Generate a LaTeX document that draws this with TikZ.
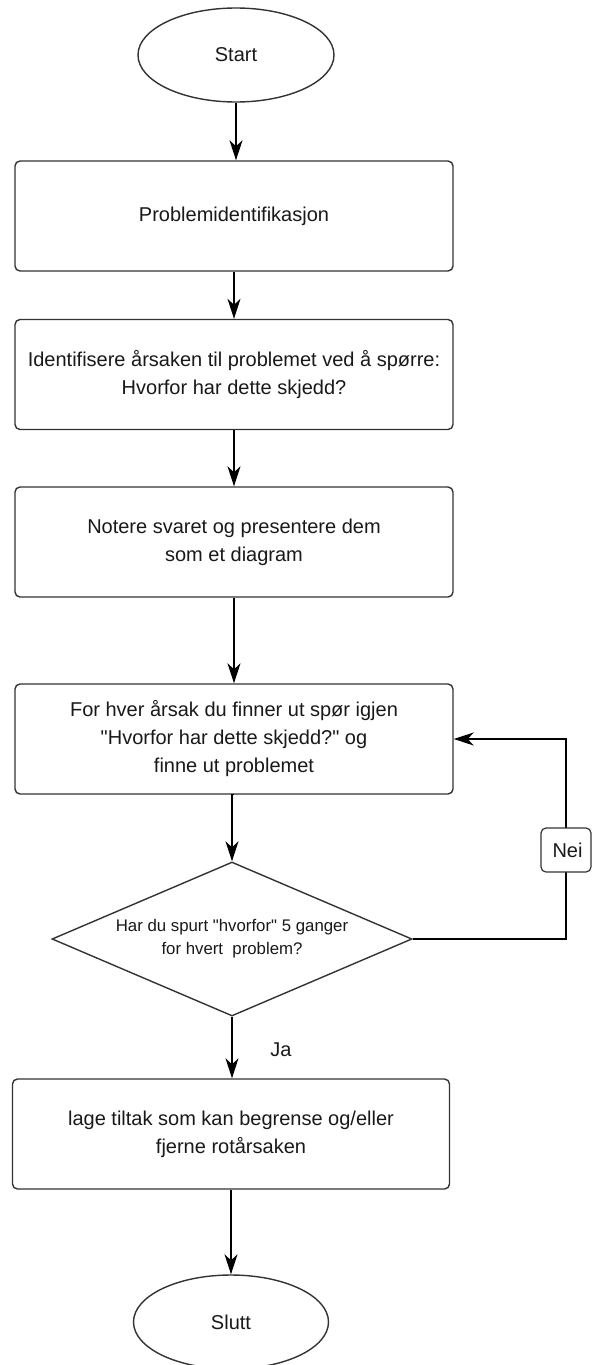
\documentclass[tikz,border=0pt]{standalone}
\usepackage{fontspec}
\setmainfont{Liberation Sans}[Ligatures=TeXOff]
\usetikzlibrary{shapes.geometric,arrows.meta}
\begin{document}
\begin{tikzpicture}[x=1pt,y=-1pt,
  base/.style={draw=black!80, line width=1.4pt, fill=white, text=black!90,
    align=center, inner sep=0pt, font=\fontsize{20}{28}\selectfont},
  terminal/.style={base, ellipse, minimum width=196pt, minimum height=94pt},
  process/.style={base, rectangle, rounded corners=5pt,
    minimum width=438pt, minimum height=110pt},
  decision/.style={base, diamond, aspect=2.34, minimum width=360pt,
    minimum height=154pt, font=\fontsize{16.8}{23}\selectfont},
  tag/.style={base, rectangle, rounded corners=5pt, line width=1.2pt,
    minimum width=50pt, minimum height=44pt},
  plain/.style={text=black!90, font=\fontsize{20}{28}\selectfont, inner sep=0pt},
  arr/.style={draw=black, line width=1.3pt,
    -{Stealth[length=20pt, width=13pt, inset=6pt]}}
]
\useasboundingbox (0,0) rectangle (592,1365);

% main column of steps
\node[terminal] (start) at (236,55) {Start};
\node[process] (b1) at (234,216) {Problemidentifikasjon};
\node[process] (b2) at (234,374.5) {Identifisere årsaken til problemet ved å spørre:\\Hvorfor har dette skjedd?};
\node[process] (b3) at (234,542) {Notere svaret og presentere dem\\som et diagram};
\node[process] (b4) at (234,739) {For hver årsak du finner ut spør igjen\\"Hvorfor har dette skjedd?" og\\finne ut problemet};
\node[decision] (dec) at (232,939) {Har du spurt "hvorfor" 5 ganger\\for hvert\ \ problem?};
\node[process, minimum width=437pt] (b5) at (231,1134) {lage tiltak som kan begrense og/eller\\fjerne rotårsaken};
\node[terminal, minimum width=195pt] (end) at (231,1322) {Slutt};

% forward connectors
\draw[arr] (start.south) -- (start.south |- b1.north);
\draw[arr] (b1.south) -- (b1.south |- b2.north);
\draw[arr] (b2.south) -- (b2.south |- b3.north);
\draw[arr] (b3.south) -- (b3.south |- b4.north);
\draw[arr] (b4.south) -- (b4.south -| dec.north) -- (dec.north);
\draw[arr] (dec.south) -- (dec.south |- b5.north);
\draw[arr] (b5.south) -- (b5.south |- end.north);

% "Ja" label on the exit of the decision
\node[plain] (ja) at (281,1050) {Ja};

% loop back when the answer is no
\coordinate (neipos) at (566,850);
\draw[arr] (dec.east) -| (neipos) |- (b4.east);
\node[tag] (nei) at (neipos) {\hspace*{3pt}Nei};
\end{tikzpicture}
\end{document}
